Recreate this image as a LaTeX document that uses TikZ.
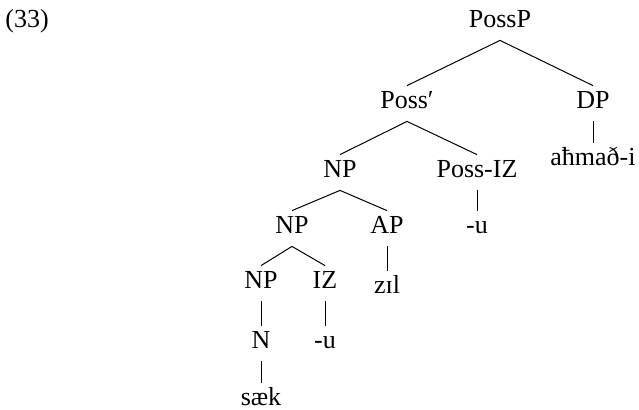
\documentclass[tikz,border=0pt]{standalone}
\usepackage{fontspec}
\setmainfont{Liberation Serif}
\tikzset{
  lab/.style={inner sep=0pt,anchor=base,text height=11pt,text depth=6.5pt},
  branch/.style={line width=.5pt}
}
\begin{document}
\begin{tikzpicture}[x=.5pt,y=-.5pt,font=\fontsize{13}{15.5}\selectfont]
\useasboundingbox (0,0) rectangle (639,409);
\node[anchor=base west,inner sep=0pt] (ex) at (5,27) {(33)};
% top of the tree
\node[lab] (possp) at (500,27) {PossP};
\node[lab] (possbar) at (407,108) {Poss′};
\node[lab] (dp) at (593,108) {DP};
\node[lab] (ahmad) at (593,165) {aħmað-i};
\node[lab] (np1) at (340,177) {NP};
\node[lab] (possiz) at (477,177) {Poss-IZ};
\node[lab] (u1) at (477,233) {-u};
\node[lab] (np2) at (292,233) {NP};
\node[lab] (ap) at (387,233) {AP};
\node[lab] (zil) at (387,293) {zɪl};
\node[lab] (np3) at (261,288) {NP};
\node[lab] (iz) at (325,288) {IZ};
\node[lab] (n) at (261,348) {N};
\node[lab] (u2) at (325,348) {-u};
\node[lab] (saek) at (261,405) {sæk};
% branches
\draw[branch] (possbar.north)--(possp.south)--(dp.north);
\draw[branch] (dp.south)--(ahmad.north);
\draw[branch] (np1.north)--(possbar.south)--(possiz.north);
\draw[branch] (possiz.south)--(u1.north);
\draw[branch] (np2.north)--(np1.south)--(ap.north);
\draw[branch] (ap.south)--(zil.north);
\draw[branch] (np3.north)--(np2.south)--(iz.north);
\draw[branch] (np3.south)--(n.north);
\draw[branch] (iz.south)--(u2.north);
\draw[branch] (n.south)--(saek.north);
\end{tikzpicture}
\end{document}
